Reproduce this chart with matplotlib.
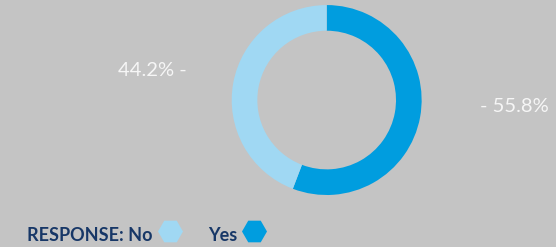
import numpy as np
import matplotlib
matplotlib.use('Agg')
import matplotlib.pyplot as plt

# data
responses = ['Yes', 'No']
shares = [55.8, 44.2]
colors = ['#009ddf', '#a0d8f3']
legend_order = ['No', 'Yes']

BG = '#c4c4c4'
NAVY = '#173767'

plt.rcParams['font.family'] = ['Lato', 'DejaVu Sans']

fig = plt.figure(figsize=(5.56, 2.47), dpi=100, facecolor=BG)

# donut
ax = fig.add_axes([0.4167, 0.2105, 0.3417, 0.769])
ax.set_facecolor(BG)
ax.pie(shares, colors=colors, startangle=90, counterclock=False,
       wedgeprops=dict(width=0.27, linewidth=0))
ax.set_xlim(-1, 1)
ax.set_ylim(-1, 1)
ax.set_aspect('equal')
ax.axis('off')

# percentage labels
lab = {r: f"{v:.1f}%" for r, v in zip(responses, shares)}
fig.text(187 / 556, 1 - 71 / 247, lab['No'] + ' -', color='#f6f6f6',
         fontsize=14.5, ha='right', va='center')
fig.text(480 / 556, 1 - 106 / 247, '- ' + lab['Yes'], color='#f6f6f6',
         fontsize=14.5, ha='left', va='center')

# legend
ov = fig.add_axes([0, 0, 1, 1], facecolor='none')
ov.set_xlim(0, 556)
ov.set_ylim(247, 0)
ov.axis('off')
cmap = dict(zip(responses, colors))
positions = {'No': (27, 170), 'Yes': (208, 254)}
for r in legend_order:
    tx, mx = positions[r]
    txt = 'RESPONSE: ' + r if r == legend_order[0] else r
    ov.text(tx, 235, txt, color=NAVY, fontsize=13, fontweight='bold',
            ha='left', va='center')
    ov.plot(mx, 230.5, marker='H', markersize=18, color=cmap[r],
            markeredgewidth=0, linestyle='none')

fig.savefig('out.png', dpi=100, facecolor=BG)
